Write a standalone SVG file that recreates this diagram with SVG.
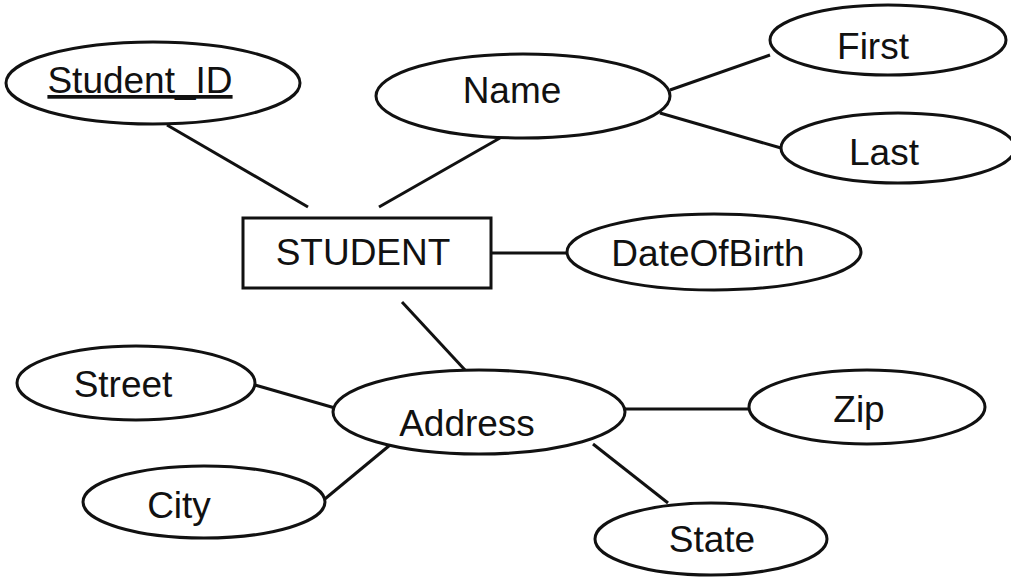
<svg xmlns="http://www.w3.org/2000/svg" width="1011" height="577" viewBox="0 0 1011 577">
<style>
.shape{fill:#fff;stroke:#111;stroke-width:3}
.conn line{stroke:#111;stroke-width:3}
text{font-family:"Liberation Sans",Arial,sans-serif;font-size:37px;fill:#111;text-anchor:middle}
</style>
<rect width="1011" height="577" fill="#fff"/>
<g id="connectors" class="conn">
<line x1="167" y1="125" x2="308" y2="207"/>
<line x1="500" y1="138" x2="379" y2="207"/>
<line x1="670" y1="90" x2="770" y2="55"/>
<line x1="660" y1="113" x2="781" y2="148"/>
<line x1="491" y1="253" x2="567" y2="253"/>
<line x1="402" y1="302" x2="465" y2="370"/>
<line x1="255" y1="385" x2="335" y2="408"/>
<line x1="390" y1="445" x2="320" y2="503"/>
<line x1="625" y1="409" x2="749" y2="409"/>
<line x1="593" y1="444" x2="668" y2="503"/>
</g>
<g id="student_id"><ellipse class="shape" cx="153" cy="83" rx="147" ry="41"/><text x="140" y="93" text-decoration="underline">Student_ID</text></g>
<g id="name"><ellipse class="shape" cx="523" cy="96" rx="147" ry="42"/><text x="512" y="103">Name</text></g>
<g id="first"><ellipse class="shape" cx="888" cy="40" rx="118" ry="35"/><text x="873" y="59">First</text></g>
<g id="last"><ellipse class="shape" cx="898" cy="148" rx="117" ry="35"/><text x="884" y="165">Last</text></g>
<g id="student"><rect class="shape" x="243" y="218" width="248" height="70"/><text x="363" y="265">STUDENT</text></g>
<g id="dateofbirth"><ellipse class="shape" cx="714" cy="252" rx="147" ry="38"/><text x="708" y="266">DateOfBirth</text></g>
<g id="street"><ellipse class="shape" cx="136" cy="383" rx="119" ry="37"/><text x="123" y="397">Street</text></g>
<g id="address"><ellipse class="shape" cx="479" cy="412" rx="146" ry="42"/><text x="467" y="436">Address</text></g>
<g id="zip"><ellipse class="shape" cx="867" cy="407" rx="118" ry="37"/><text x="859" y="422">Zip</text></g>
<g id="city"><ellipse class="shape" cx="204" cy="502" rx="121" ry="36"/><text x="179" y="518">City</text></g>
<g id="state"><ellipse class="shape" cx="711" cy="539" rx="116" ry="36"/><text x="712" y="552">State</text></g>
</svg>
